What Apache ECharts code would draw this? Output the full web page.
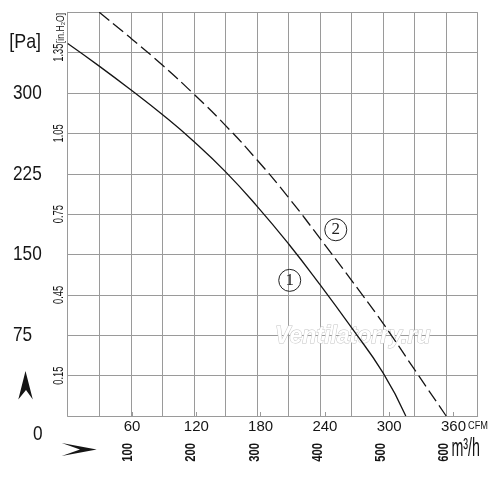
<!DOCTYPE html>
<html>
<head>
<meta charset="utf-8">
<script src="https://cdn.jsdelivr.net/npm/echarts@6/dist/echarts.min.js"></script>
<style>html,body{margin:0;padding:0;background:#fff}#c{width:500px;height:480px}</style>
</head>
<body>
<div id="c"></div>
<script>
// ---- data (flow in m3/h, pressure in Pa) ----
const curve1Flow = [0, 50, 100, 150, 200, 250, 300, 350, 400, 450, 500, 536];
const curve1Pa   = [346, 325, 303, 280, 255, 227, 195, 160, 122, 82, 40, 0];
const curve2Flow = [50, 100, 150, 200, 250, 300, 350, 400, 450, 500, 550, 600];
const curve2Pa   = [375, 351, 326, 299, 270, 238, 203, 165, 126, 86, 43, 0];
// curve tags (flow m3/h, Pa)
const tag1 = [352, 126];
const tag2 = [425, 173];
// tick labels
const paLabels = [75, 150, 225, 300];
const inH2OLabels = [0.15, 0.45, 0.75, 1.05, 1.35];
const m3hLabels = [100, 200, 300, 400, 500, 600];
const cfmLabels = [60, 120, 180, 240, 300, 360];

const M3H_PER_CFM = 1.699;
const SANS = "'Liberation Sans',Arial,sans-serif";
const gridColor = '#9a9a9a';
const ink = '#151515';
const has = (arr, v) => arr.some(a => Math.abs(a - v) < 1e-6);

const chart = echarts.init(document.getElementById('c'), null, {renderer: 'canvas'});
const option = {
  animation: false,
  backgroundColor: '#fff',
  grid: {left: 67.7, right: 22.3, top: 12.3, bottom: 64},
  xAxis: [
    {
      type: 'value', min: 0, max: 650, interval: 50, position: 'bottom',
      axisLine: {show: true, lineStyle: {color: gridColor, width: 1}},
      axisTick: {show: false},
      splitLine: {show: true, lineStyle: {color: gridColor, width: 1}},
      axisLabel: {show: false}
    },
    {
      type: 'value', min: 0, max: 650 / M3H_PER_CFM, interval: 60, position: 'bottom',
      axisLine: {show: false},
      axisTick: {show: true, inside: true, length: 4, lineStyle: {color: gridColor}},
      splitLine: {show: false},
      axisLabel: {
        margin: 3, fontSize: 15, fontFamily: SANS, color: ink,
        showMaxLabel: false,
        formatter: v => has(cfmLabels, v) ? String(Math.round(v)) : ''
      }
    }
  ],
  yAxis: [
    {
      type: 'value', min: 0, max: 375, interval: 37.5, position: 'left',
      axisLine: {show: true, lineStyle: {color: gridColor, width: 1}},
      axisTick: {show: false},
      splitLine: {show: true, lineStyle: {color: gridColor, width: 1}},
      axisLabel: {show: false}
    },
    {
      type: 'value', min: 0, max: 1.5, interval: 0.15, position: 'left',
      axisLine: {show: false}, axisTick: {show: false}, splitLine: {show: false},
      axisLabel: {show: false}
    }
  ],
  series: [
    {
      type: 'line', xAxisIndex: 0, yAxisIndex: 0, smooth: 0.5, symbol: 'none',
      data: curve1Flow.map((f, i) => [f, curve1Pa[i]]),
      lineStyle: {color: ink, width: 1.3},
      markPoint: {
        symbol: 'circle', symbolSize: 22, silent: true,
        itemStyle: {color: 'rgba(255,255,255,0)', borderColor: '#222', borderWidth: 1},
        label: {show: true, position: 'inside', formatter: '1', fontFamily: "'Liberation Serif',serif", fontSize: 17, color: '#222'},
        data: [{coord: tag1}]
      }
    },
    {
      type: 'line', xAxisIndex: 0, yAxisIndex: 0, smooth: 0.5, symbol: 'none',
      data: curve2Flow.map((f, i) => [f, curve2Pa[i]]),
      lineStyle: {color: ink, width: 1.3, type: [13, 5]},
      markPoint: {
        symbol: 'circle', symbolSize: 22, silent: true,
        itemStyle: {color: 'rgba(255,255,255,0)', borderColor: '#222', borderWidth: 1},
        label: {show: true, position: 'inside', formatter: '2', fontFamily: "'Liberation Serif',serif", fontSize: 17, color: '#222'},
        data: [{coord: tag2}]
      }
    }
  ]
};
chart.setOption(option);

// ---- condensed tick labels and decorations, placed through the axes ----
const txt = (text, x, y, fs, opts) => Object.assign({
  type: 'text', x: x, y: y, z: 10,
  style: {text: text, fontSize: fs, fontFamily: SANS, fill: ink, align: 'left', verticalAlign: 'middle'}
}, opts || {});
const g = [];
paLabels.forEach(v => {
  const y = chart.convertToPixel({yAxisIndex: 0}, v);
  g.push(txt(String(v), 13, y, 21, {scaleX: 0.82}));
});
inH2OLabels.forEach(v => {
  const y = chart.convertToPixel({yAxisIndex: 1}, v);
  const t = txt(v.toFixed(2), 59.3, y, 15, {rotation: Math.PI / 2, scaleX: 0.62});
  t.style.align = 'center';
  g.push(t);
  if (Math.abs(v - 1.35) < 1e-6) {
    g.push(txt('[in.H\u2082O]', 61.5, y - 9.5, 10, {rotation: Math.PI / 2, scaleX: 0.87}));
  }
});
m3hLabels.forEach(v => {
  const x = chart.convertToPixel({xAxisIndex: 0}, v);
  const t = txt(String(v), x - 2.5, 452.3, 15, {rotation: Math.PI / 2, scaleX: 0.75});
  t.style.align = 'center';
  t.style.fontWeight = 'bold';
  g.push(t);
});
g.push(txt('[Pa]', 9.3, 42.3, 21, {scaleX: 0.85}));
g.push(txt('0', 33, 434, 21, {scaleX: 0.82}));
g.push(txt('CFM', 468, 426, 11, {scaleX: 0.84}));
g.push(txt('m\u00b3/h', 451.5, 449.6, 25, {scaleX: 0.57}));
g.push({type: 'text', x: 275, y: 336.7, z: 1,
  style: {text: 'Ventilatorry.ru', fontSize: 23, fontStyle: 'italic', fontWeight: 'bold', fontFamily: SANS,
    fill: '#ffffff', stroke: '#c4c4c4', lineWidth: 1, align: 'left', verticalAlign: 'middle'}});
g.push({type: 'polygon', z: 10, shape: {points: [[25.5, 371], [32.8, 399.5], [26, 390], [18.3, 399.5]]}, style: {fill: ink}});
g.push({type: 'polygon', z: 10, shape: {points: [[61.7, 443], [96.7, 449.5], [61.7, 456], [80, 449.5]]}, style: {fill: ink}});
chart.setOption({graphic: g});
</script>
</body>
</html>
